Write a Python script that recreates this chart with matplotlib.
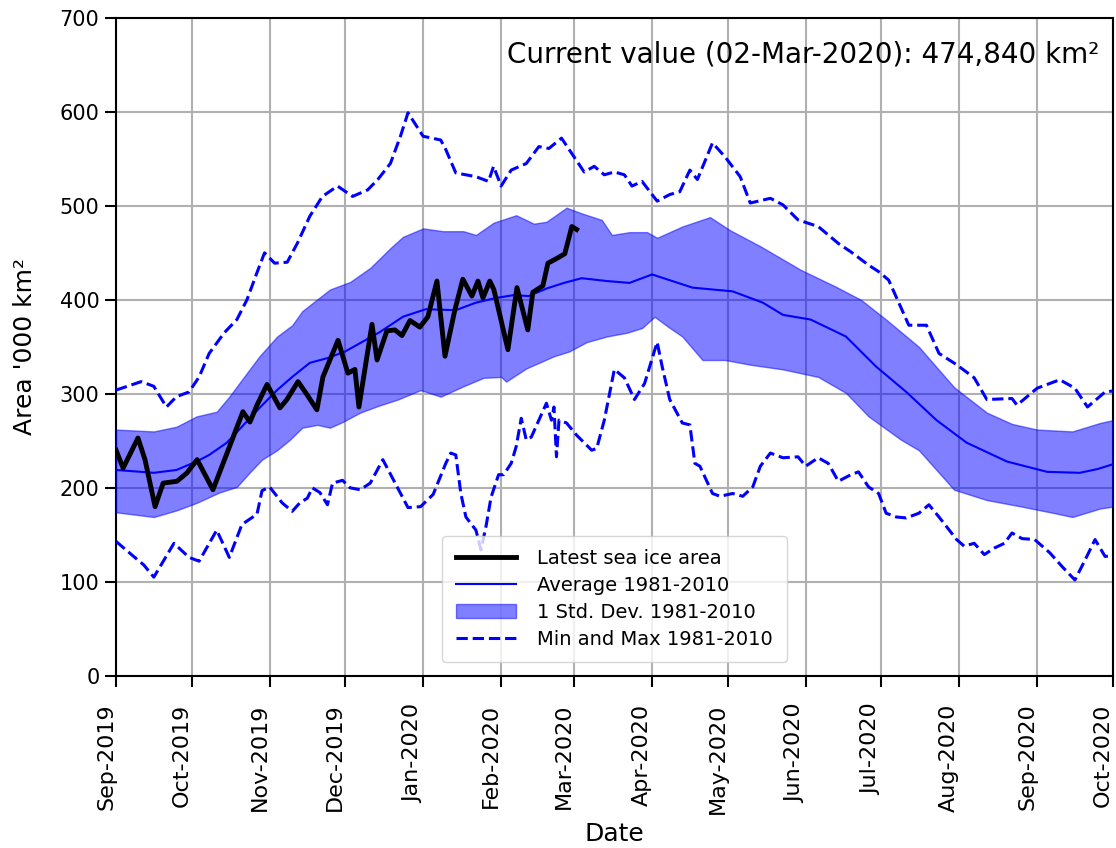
import numpy as np
import pandas as pd
import matplotlib
matplotlib.use('Agg')
import matplotlib.pyplot as plt
import matplotlib.dates as mdates

# Day offsets from 01-Sep-2019 and areas ('000 km2)
start = pd.Timestamp('2019-09-01')

latest_days = [0, 2.8, 8.7, 11.5, 15.5, 18.7, 24.2, 28.2, 32.2, 38.5,
               44.1, 48.1, 50.4, 53.2, 56, 60, 65.1, 67.9, 72.3, 75.9,
               79.8, 82.2, 88.2, 92.1, 94.9, 96.5, 101.7, 103.7, 107.6, 110.8,
               113.6, 116.8, 120.7, 123.9, 127.5, 130.7, 134.6, 137.8, 141.4, 143.8,
               145.8, 148.5, 150.1, 151.7, 155.7, 159.3, 161.6, 163.6, 165.6, 169.6,
               171.6, 175.1, 178.3, 181.1, 183]
latest_vals = [240, 221, 253, 230, 180, 205, 207, 216, 230, 198,
               237, 265, 281, 270, 288, 310, 285, 294, 313, 299,
               283, 318, 357, 322, 326, 286, 374, 336, 367, 368,
               362, 378, 371, 382, 420, 340, 389, 422, 404, 420,
               402, 420, 411, 393, 347, 413, 389, 368, 408, 415,
               439, 444, 449, 478, 474.84]

avg_days = [0, 15, 24, 32, 37, 44, 50, 57, 64, 70,
            77, 84, 91, 97, 105, 114, 123, 135, 143, 151,
            158, 164, 171, 178, 185, 195, 204, 213, 221, 229,
            237, 245, 257, 265, 276, 290, 302, 314, 326, 338,
            354, 370, 383, 390, 396]
avg_vals = [219, 216, 219, 228, 235, 248, 265, 285, 304, 318,
            333, 338, 345, 354, 366, 382, 390, 389, 397, 402,
            405, 404, 412, 418, 423, 420, 418, 427, 420, 413,
            411, 409, 397, 384, 379, 361, 329, 302, 272, 248,
            228, 217, 216, 220, 225]

upper_days = [0, 15, 24, 32, 40, 45, 50, 57, 64, 70,
              74, 85, 93, 101, 109, 114, 122, 130, 138, 143,
              150, 159, 166, 171, 179, 185, 193, 197, 204, 211,
              215, 225, 236, 244, 256, 272, 286, 296, 306, 319,
              333, 346, 356, 366, 380, 391, 396]
upper_vals = [262, 260, 265, 276, 281, 297, 315, 340, 361, 373,
              388, 411, 419, 434, 455, 467, 476, 473, 473, 469,
              482, 490, 481, 483, 498, 492, 485, 469, 472, 472,
              466, 478, 488, 474, 457, 432, 414, 400, 379, 350,
              307, 280, 268, 262, 260, 269, 272]

lower_days = [0, 15, 24, 32, 41, 48, 53, 58, 64, 69,
              74, 80, 85, 90, 97, 104, 112, 121, 129, 138,
              146, 153, 155, 163, 174, 180, 187, 195, 203, 209,
              214, 219, 225, 233, 242, 252, 265, 279, 290, 299,
              312, 319, 326, 333, 346, 360, 373, 380, 391, 396]
lower_vals = [174, 169, 176, 184, 195, 201, 216, 230, 240, 251,
              264, 267, 264, 270, 280, 287, 294, 304, 297, 308,
              317, 318, 313, 327, 340, 345, 355, 361, 365, 370,
              382, 372, 361, 336, 336, 331, 326, 318, 301, 276,
              251, 240, 219, 198, 187, 180, 173, 169, 178, 180]

max_days = [0, 10, 15, 20, 24, 29, 33, 37, 43, 48,
            52, 56, 59, 63, 68, 72, 77, 82, 88, 94,
            100, 104, 109, 113, 116, 122, 129, 131, 135, 143,
            148, 150, 153, 157, 163, 168, 172, 177, 182, 186,
            190, 194, 198, 202, 205, 209, 215, 220, 224, 228,
            231, 237, 242, 248, 252, 260, 265, 271, 279, 287,
            292, 299, 303, 307, 311, 315, 322, 327, 334, 341,
            346, 356, 358, 366, 375, 381, 386, 393, 396]
max_vals = [304, 313, 308, 286, 297, 302, 318, 343, 365, 379,
            400, 429, 450, 439, 440, 460, 489, 510, 521, 510,
            517, 528, 545, 574, 599, 574, 570, 560, 535, 531,
            526, 542, 521, 538, 545, 563, 561, 572, 552, 536,
            542, 533, 536, 533, 521, 526, 505, 512, 515, 538,
            528, 567, 552, 531, 503, 508, 501, 485, 478, 460,
            451, 437, 430, 421, 397, 373, 373, 343, 331, 317,
            294, 295, 288, 306, 315, 306, 286, 302, 303]

min_days = [0, 7, 11, 15, 23, 29, 33, 40, 45, 50,
            56, 58, 61, 66, 70, 73, 76, 78, 81, 84,
            86, 90, 93, 97, 101, 106, 116, 121, 126, 131,
            133, 135, 137, 139, 143, 145, 147, 149, 152, 154,
            157, 159, 161, 163, 165, 168, 171, 173, 174, 175,
            176, 179, 183, 189, 191, 194, 198, 202, 206, 210,
            215, 217, 220, 225, 228, 230, 232, 237, 240, 245,
            249, 253, 256, 260, 265, 271, 274, 279, 283, 287,
            292, 295, 299, 303, 306, 310, 314, 319, 323, 327,
            334, 337, 341, 345, 349, 353, 356, 360, 365, 371,
            376, 381, 385, 389, 393, 396]
min_vals = [143, 127, 118, 105, 141, 126, 122, 155, 126, 161,
            172, 197, 201, 184, 175, 184, 189, 200, 195, 182,
            205, 208, 200, 198, 205, 230, 179, 180, 193, 226,
            237, 235, 194, 169, 155, 134, 159, 190, 214, 214,
            226, 244, 274, 251, 254, 272, 290, 272, 286, 233,
            272, 269, 256, 240, 242, 272, 326, 317, 294, 311,
            355, 329, 294, 269, 267, 226, 223, 194, 191, 194,
            191, 201, 223, 237, 232, 233, 223, 232, 226, 207,
            214, 217, 201, 194, 173, 169, 168, 173, 182, 169,
            145, 138, 141, 129, 136, 141, 152, 146, 145, 131,
            116, 102, 123, 145, 127, 128]


def to_dates(days):
    return start + pd.to_timedelta(days, unit='D')


# Std. dev. band edges on a common daily grid
band_days = np.arange(0, 397)
band_upper = np.interp(band_days, upper_days, upper_vals)
band_lower = np.interp(band_days, lower_days, lower_vals)

fig = plt.figure(figsize=(11.16, 8.48), dpi=100)
ax = fig.add_axes([0.104, 0.203, 0.893, 0.776])

ax.grid(True, color='#b0b0b0', linewidth=1.5)
ax.set_axisbelow(True)

ax.plot(to_dates(latest_days), latest_vals, color='black', linewidth=3.5,
        label='Latest sea ice area', zorder=5)
ax.plot(to_dates(avg_days), avg_vals, color='blue', linewidth=1.5,
        label='Average 1981-2010', zorder=4)
ax.fill_between(to_dates(band_days), band_lower, band_upper, color='blue',
                alpha=0.5, linewidth=1, label='1 Std. Dev. 1981-2010', zorder=3)
ax.plot(to_dates(max_days), max_vals, color='blue', linestyle='--',
        linewidth=2.2, label='Min and Max 1981-2010', zorder=4)
ax.plot(to_dates(min_days), min_vals, color='blue', linestyle='--',
        linewidth=2.2, zorder=4)

ax.set_xlim(start, pd.Timestamp('2020-10-01'))
ax.set_ylim(0, 700)
ax.xaxis.set_major_locator(mdates.MonthLocator())
ax.xaxis.set_major_formatter(mdates.DateFormatter('%b-%Y'))
ax.tick_params(axis='x', labelsize=16, length=8, width=1.5, pad=12)
ax.tick_params(axis='y', labelsize=15, length=8, width=1.5, pad=4)
plt.setp(ax.get_xticklabels(), rotation=90, ha='right')
for s in ax.spines.values():
    s.set_linewidth(1.5)

ax.set_xlabel('Date', fontsize=18, labelpad=6)
ax.set_ylabel("Area '000 km²", fontsize=18, labelpad=16)

ax.text(0.987, 0.944, 'Current value (02-Mar-2020): 474,840 km²',
        transform=ax.transAxes, ha='right', va='center', fontsize=20)

ax.legend(loc='lower center', fontsize=14, handlelength=3.1,
          handletextpad=1.1, labelspacing=0.4, borderpad=0.7,
          borderaxespad=0.7, framealpha=0.8)

fig.savefig('out.png', dpi=100)
